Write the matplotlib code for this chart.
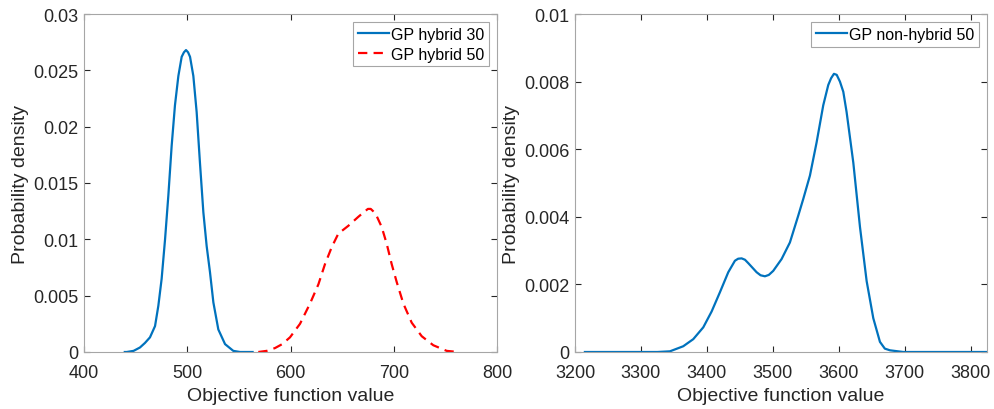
import matplotlib.pyplot as plt

plt.rcParams["font.family"] = ["Liberation Sans", "DejaVu Sans"]

# GP hybrid 30 (left, solid blue)
hyb30_x = [439.5, 441.3, 448, 454.2, 459, 463.9, 468.8, 472.0, 475.2, 478.5, 481.7, 484.9,
           488.1, 491.4, 494.6, 496.8, 498.8, 500.8, 502.7, 505.9, 509.1, 512.3, 515.6,
           518.8, 522.0, 525.3, 530.1, 536.6, 544.6, 551.1, 563.3]
hyb30_y = [0.0, 0.0, 0.0001, 0.0004, 0.0008, 0.0013, 0.0023, 0.0041, 0.0065, 0.0100, 0.0139,
           0.0183, 0.0219, 0.0245, 0.0262, 0.0266, 0.0268, 0.0266, 0.0262, 0.0245, 0.0213,
           0.0168, 0.0124, 0.0094, 0.0071, 0.0044, 0.0020, 0.0007, 0.0001, 0.0, 0.0]

# GP hybrid 50 (left, dashed red)
hyb50_x = [568.8, 577, 585.0, 592, 599.5, 609.2, 618.9, 627.0, 633.4, 639.9, 646.3, 656.0,
           665.7, 672.2, 675, 677.7, 680, 682.8, 688.3, 693.2, 698.0, 702.9, 709.3, 717.4,
           727.1, 738.3, 751.3, 762.5]
hyb50_y = [0.0, 0.0001, 0.00035, 0.0007, 0.0013, 0.0025, 0.0043, 0.0060, 0.0078, 0.0093,
           0.0105, 0.0112, 0.0120, 0.0125, 0.0127, 0.0127, 0.0125, 0.0122, 0.0111, 0.0096,
           0.0078, 0.0062, 0.0043, 0.0026, 0.0014, 0.0006, 0.0001, 0.0]

# GP non-hybrid 50 (right, solid blue)
nonhyb_x = [3215, 3298.6, 3325, 3344, 3364.2, 3379.4, 3394.6, 3407.3, 3419.9, 3432.5, 3442.6,
            3447.5, 3452.8, 3457.8, 3462.8, 3475.5, 3481.5, 3488.1, 3494, 3500.7, 3513.4,
            3526.0, 3538.6, 3546.3, 3556.4, 3566.5, 3576.6, 3584.2, 3588.5, 3592.8, 3597,
            3601.9, 3607, 3612, 3622.2, 3632.3, 3642.4, 3652.5, 3662.6, 3670, 3677.8, 3698,
            3760, 3824]
nonhyb_y = [0.0, 0.0, 0.0, 0.00002, 0.00017, 0.00038, 0.00073, 0.0012, 0.00177, 0.00236,
            0.0027, 0.00276, 0.00277, 0.00273, 0.00263, 0.00236, 0.00227, 0.00224, 0.00228,
            0.0024, 0.00275, 0.00324, 0.00403, 0.00453, 0.00522, 0.0062, 0.0073, 0.0079,
            0.0081, 0.00823, 0.0082, 0.0080, 0.0077, 0.0071, 0.0056, 0.0037, 0.0021, 0.001,
            0.0003, 0.0001, 0.00005, 0.0, 0.0, 0.0]

BLUE = "#0072BD"
GREY = "#262626"
AXC = "#a6a6a6"

fig = plt.figure(figsize=(9.95, 4.10), dpi=100)
ax1 = fig.add_axes([84 / 995, 57 / 410, 413 / 995, 338 / 410])
ax2 = fig.add_axes([575 / 995, 57 / 410, 412 / 995, 338 / 410])


def style(ax):
    for s in ax.spines.values():
        s.set_color(AXC)
        s.set_linewidth(0.8)
    ax.tick_params(direction="in", top=True, right=True, length=4, width=0.8,
                   color=GREY, labelcolor=GREY, labelsize=13)
    ax.tick_params(axis="x", pad=9)
    ax.tick_params(axis="y", pad=4)
    ax.set_xlabel("Objective function value", fontsize=14, color=GREY, labelpad=4)
    ax.set_ylabel("Probability density", fontsize=14, color=GREY, labelpad=3)


ax1.plot(hyb30_x, hyb30_y, color=BLUE, lw=1.6, label="GP hybrid 30")
ax1.plot(hyb50_x, hyb50_y, color="#ff0000", lw=1.6, ls=(0, (4.2, 2.8)), label="GP hybrid 50")
ax1.set_xlim(400, 800)
ax1.set_ylim(0, 0.03)
ax1.set_xticks([400, 500, 600, 700, 800])
ax1.set_yticks([0, 0.005, 0.01, 0.015, 0.02, 0.025, 0.03])
ax1.set_yticklabels(["0", "0.005", "0.01", "0.015", "0.02", "0.025", "0.03"])
style(ax1)

ax2.plot(nonhyb_x, nonhyb_y, color=BLUE, lw=1.6, label="GP non-hybrid 50")
ax2.set_xlim(3200, 3825)
ax2.set_ylim(0, 0.01)
ax2.set_xticks([3200, 3300, 3400, 3500, 3600, 3700, 3800])
ax2.set_yticks([0, 0.002, 0.004, 0.006, 0.008, 0.01])
ax2.set_yticklabels(["0", "0.002", "0.004", "0.006", "0.008", "0.01"])
style(ax2)

for ax in (ax1, ax2):
    leg = ax.legend(loc="upper right", fontsize=11.5, fancybox=False, framealpha=1,
                    borderpad=0.3, labelspacing=0.3, handlelength=1.9,
                    handletextpad=0.15, borderaxespad=0.5)
    leg.get_frame().set_edgecolor(AXC)
    leg.get_frame().set_linewidth(0.8)

fig.savefig("out.png", dpi=100)
